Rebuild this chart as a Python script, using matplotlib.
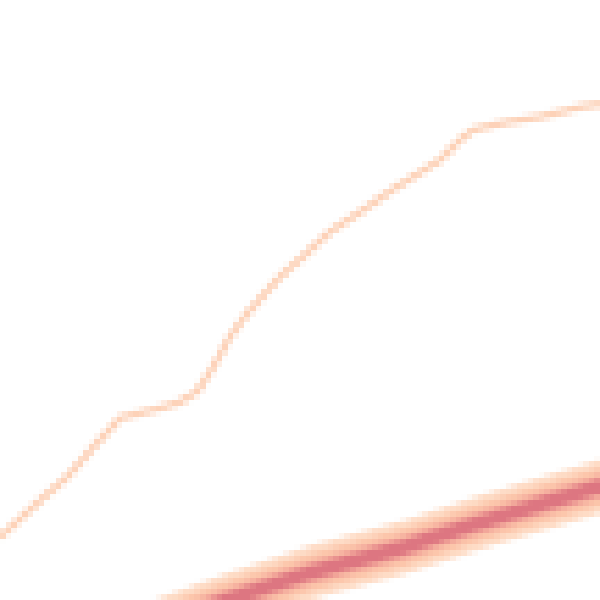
import numpy as np
import matplotlib
matplotlib.use("Agg")
import matplotlib.pyplot as plt

# thin curve (x, y in pixel-like units, y grows downward)
curve_x = [0, 33, 67, 100, 120, 140, 160, 180, 197, 213, 230, 250, 280, 330, 400, 440, 460, 473, 507, 540, 580, 600]
curve_y = [537, 507, 477, 440, 418, 413, 408, 402, 392, 367, 337, 310, 277, 232, 185, 160, 140, 130, 122, 117, 107, 104]

# dense band centre line
band_x = [100, 163, 223, 307, 400, 467, 533, 600]
band_y = [643, 620, 598, 570, 545, 523, 503, 483]

# band layers from outside to core: (vertical half-height, colour)
band_layers = [(27, "#fedcc6"), (19, "#fcc6ab"), (12, "#f3a89b"), (7, "#dd7681")]


def draw_lowres():
    """Рисует линии в низком разрешении, чтобы получить ступенчатый вид"""
    fig = plt.figure(figsize=(6, 6), dpi=18)
    ax = fig.add_axes([0, 0, 1, 1])
    ax.plot(curve_x, curve_y, color="#fdd2b8", lw=5, solid_capstyle="butt")
    by = np.array(band_y)
    for h, c in band_layers:
        ax.fill_between(band_x, by - h, by + h, color=c, lw=0, antialiased=False)
    ax.set_xlim(0, 600)
    ax.set_ylim(600, 0)
    ax.axis("off")
    fig.canvas.draw()
    img = np.asarray(fig.canvas.buffer_rgba()).copy()
    plt.close(fig)
    return img


def main():
    img = draw_lowres()
    fig = plt.figure(figsize=(6, 6), dpi=100)
    ax = fig.add_axes([0, 0, 1, 1])
    ax.imshow(img, interpolation="nearest", aspect="auto")
    ax.axis("off")
    fig.savefig("out.png", dpi=100)


if __name__ == "__main__":
    main()
